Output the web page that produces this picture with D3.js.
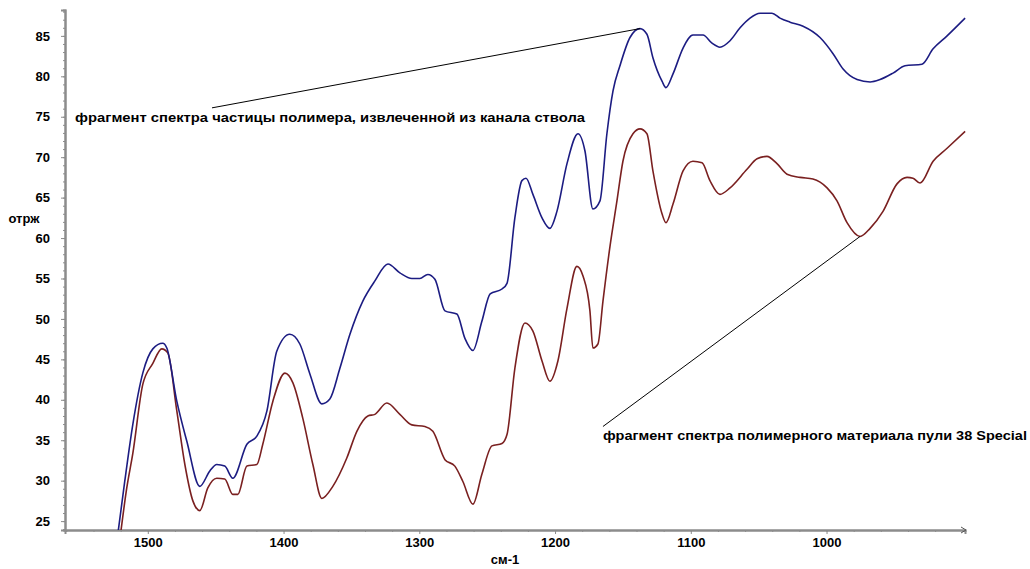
<!DOCTYPE html>
<html>
<head>
<meta charset="utf-8">
<script src="https://cdn.jsdelivr.net/npm/d3@7"></script>
<style>
  body { margin: 0; background: #fff; }
  svg text { font-family: "Liberation Sans", Arial, sans-serif; font-weight: bold; fill: #000; }
</style>
</head>
<body>
<svg class="chart" width="1030" height="569"></svg>
<script>
// wavenumber (cm-1) and reflectance readings
var blueW = [1522,1517,1511,1503.7,1496.3,1489,1486,1478.6,1471.3,1461.7,1454.3,1449.2,1443.3,1437.4,1427,1419.7,1412.3,1405,1395.4,1388,1380.6,1371.8,1365.9,1358.5,1351.1,1341.6,1332.7,1323.1,1314.3,1305.5,1299.6,1293.7,1288.5,1281.1,1272.3,1266.4,1260.5,1253.9,1247.8,1239.1,1235.4,1229.6,1224.4,1221.4,1216.3,1209.6,1203.8,1198.6,1191.2,1183.1,1178,1172.1,1166.9,1161.8,1157.3,1152.2,1144.8,1137.4,1132.3,1127.9,1121.2,1118.3,1113.1,1105.7,1098.4,1091,1084.4,1078.5,1071.1,1063.7,1056.4,1049,1040.2,1034.3,1026.9,1017.3,1004.8,995.2,987.8,977.5,967.9,960.6,951,942.2,929.7,921.5,911.2,897.9];
var blueV = [23.5,29.9,37.0,43.3,46.3,47.0,46.4,39.8,34.9,29.3,31.2,32.0,31.8,30.3,34.5,35.5,38.6,46.0,48.1,46.9,43.2,39.5,40.1,43.9,48.1,52.2,54.7,56.8,55.7,55.0,55.0,55.5,54.9,51.0,50.6,47.6,46.1,49.7,53.1,53.7,54.4,62.5,67.1,67.4,65.4,62.5,61.2,63.3,69.2,72.9,70.8,63.6,64.6,72.9,78.2,81.3,84.8,85.9,85.2,82.3,79.4,78.6,80.3,83.5,85.1,85.1,84.1,83.6,84.4,86.0,87.2,87.8,87.8,87.2,86.7,86.2,84.8,82.8,80.9,79.6,79.3,79.6,80.4,81.3,81.5,83.4,85.0,87.2];

var redW = [1520,1515.5,1511.1,1503.7,1496.3,1489.7,1485.3,1478.6,1472.7,1466.8,1461.7,1455.8,1449.2,1443.3,1437.4,1433.7,1427,1419.7,1415.3,1407.9,1399,1393.1,1385.8,1378.4,1371.8,1363.7,1353.4,1346,1337.9,1332.7,1323.9,1314.3,1305.5,1295.9,1290,1281.1,1273.8,1267.9,1260.5,1253.9,1246.5,1239.1,1235.4,1229.6,1222.2,1216.3,1209.6,1203.8,1197.9,1191.2,1183.9,1179.4,1174.3,1172.1,1168.4,1164.7,1159.5,1154.4,1150,1142.6,1137.4,1132.3,1127.9,1121.2,1118.3,1113.1,1105.7,1098.4,1091.7,1085.9,1078.5,1071.1,1058.6,1051.2,1043.9,1036.5,1029.1,1019.5,1010,999.6,992.3,984.9,975.3,967.9,958.4,948.1,940.7,936.3,931.1,921.5,911.2,897.9];
var redV = [23.5,29.1,33.3,41.9,44.5,46.3,45.8,38.6,32.0,27.5,26.3,29.1,30.3,30.2,28.3,28.3,31.8,32.0,34.5,39.8,43.3,42.1,37.7,32.0,27.8,29.3,32.8,36.1,38.0,38.2,39.6,38.2,36.9,36.7,36.1,32.6,31.8,29.9,27.1,30.8,34.3,34.6,35.7,43.9,49.5,48.5,44.8,42.3,44.8,51.3,56.5,55.3,51.0,46.4,46.9,52.2,59.0,64.6,69.5,72.9,73.5,72.9,68.3,63.0,61.9,64.2,68.3,69.5,69.3,67.1,65.4,66.2,68.5,69.8,70.1,69.2,67.9,67.5,67.3,66.2,64.6,61.9,60.2,61.2,63.3,66.7,67.5,67.4,66.8,69.5,71.1,73.2];

var xTicks = [1500, 1400, 1300, 1200, 1100, 1000];
var yTicks = [25, 30, 35, 40, 45, 50, 55, 60, 65, 70, 75, 80, 85];

// notes: text anchor and pointer (start -> target) in data units
var noteText = ["фрагмент спектра частицы полимера, извлеченной из канала ствола",
                "фрагмент спектра полимерного материала пули 38 Special"];
var noteAt = [[1553.6, 74.85], [1164.7, 35.6]];
var noteFrom = [[1452.7, 76.1], [1164.7, 36.7]];
var noteTo = [[1137.4, 85.9], [975.3, 60.2]];
var noteLen = [510, 424];

var svg = d3.select("svg.chart");
var padL = 65, padR = 965, padT = 10, padB = 530;

var x = d3.scaleLinear().domain([1561, 898]).range([padL, padR]);
var y = d3.scaleLinear().domain([23.9, 88.2]).range([padB, padT]);

svg.append("clipPath").attr("id", "plot")
  .append("rect").attr("x", padL).attr("y", padT)
  .attr("width", padR - padL + 2).attr("height", padB - padT);

/* axes */
var axisCol = "#8c8c8c";

var gx = svg.append("g").attr("transform", "translate(0," + padB + ")");
gx.call(d3.axisBottom(x).tickValues(d3.range(1560, 899, -20)).tickSize(2).tickFormat(""));
gx.append("g").call(d3.axisBottom(x).tickValues(xTicks).tickSize(4).tickFormat(d3.format("d")));
gx.selectAll(".domain").attr("stroke", axisCol).attr("stroke-width", 2);
gx.selectAll("line").attr("stroke", axisCol);
gx.selectAll("text").attr("dy", "0.75em").style("font-size", "13px")
  .style("font-family", "'Liberation Sans', Arial").style("font-weight", "bold").attr("fill", "#000");

var gy = svg.append("g").attr("transform", "translate(" + padL + ",0)");
gy.call(d3.axisLeft(y).tickValues(d3.range(24, 89, 1)).tickSize(2).tickFormat(""));
gy.append("g").call(d3.axisLeft(y).tickValues(yTicks).tickSize(4).tickPadding(11).tickFormat(d3.format("d")));
gy.selectAll(".domain").attr("stroke", axisCol).attr("stroke-width", 2);
gy.selectAll("line").attr("stroke", axisCol);
gy.selectAll("text").style("font-size", "13px")
  .style("font-family", "'Liberation Sans', Arial").style("font-weight", "bold").attr("fill", "#000");

// arrow at end of x axis
svg.append("path")
  .attr("d", "M" + (padR - 4) + "," + (padB - 3) + "L" + (padR + 1) + "," + padB + "L" + (padR - 4) + "," + (padB + 3))
  .attr("fill", "none").attr("stroke", "#555").attr("stroke-width", 1);

svg.append("text").attr("x", 505).attr("y", 564).attr("text-anchor", "middle")
  .style("font-size", "13px").text("см-1");
svg.append("text").attr("x", 24).attr("y", 223).attr("text-anchor", "middle")
  .style("font-size", "13px").text("отрж");

/* spectra */
var line = d3.line()
  .x(function(d){ return x(d[0]); })
  .y(function(d){ return y(d[1]); })
  .curve(d3.curveMonotoneX);

var plot = svg.append("g").attr("clip-path", "url(#plot)");

plot.append("path")
  .datum(redW.map(function(w, i){ return [w, redV[i]]; }))
  .attr("d", line).attr("fill", "none")
  .attr("stroke", "#7a2020").attr("stroke-width", 1.6);

plot.append("path")
  .datum(blueW.map(function(w, i){ return [w, blueV[i]]; }))
  .attr("d", line).attr("fill", "none")
  .attr("stroke", "#1c1c82").attr("stroke-width", 1.6);

/* annotations */
for(var i = 0; i < noteText.length; ++i)
{
    svg.append("line")
        .attr("x1", x(noteFrom[i][0])).attr("y1", y(noteFrom[i][1]))
        .attr("x2", x(noteTo[i][0])).attr("y2", y(noteTo[i][1]))
        .attr("stroke", "#000").attr("stroke-width", 1);
    svg.append("text")
        .attr("x", x(noteAt[i][0])).attr("y", y(noteAt[i][1]))
        .attr("dy", "0.35em")
        .attr("textLength", noteLen[i]).attr("lengthAdjust", "spacingAndGlyphs")
        .style("font-size", "12px")
        .text(noteText[i]);
}
</script>
</body>
</html>
